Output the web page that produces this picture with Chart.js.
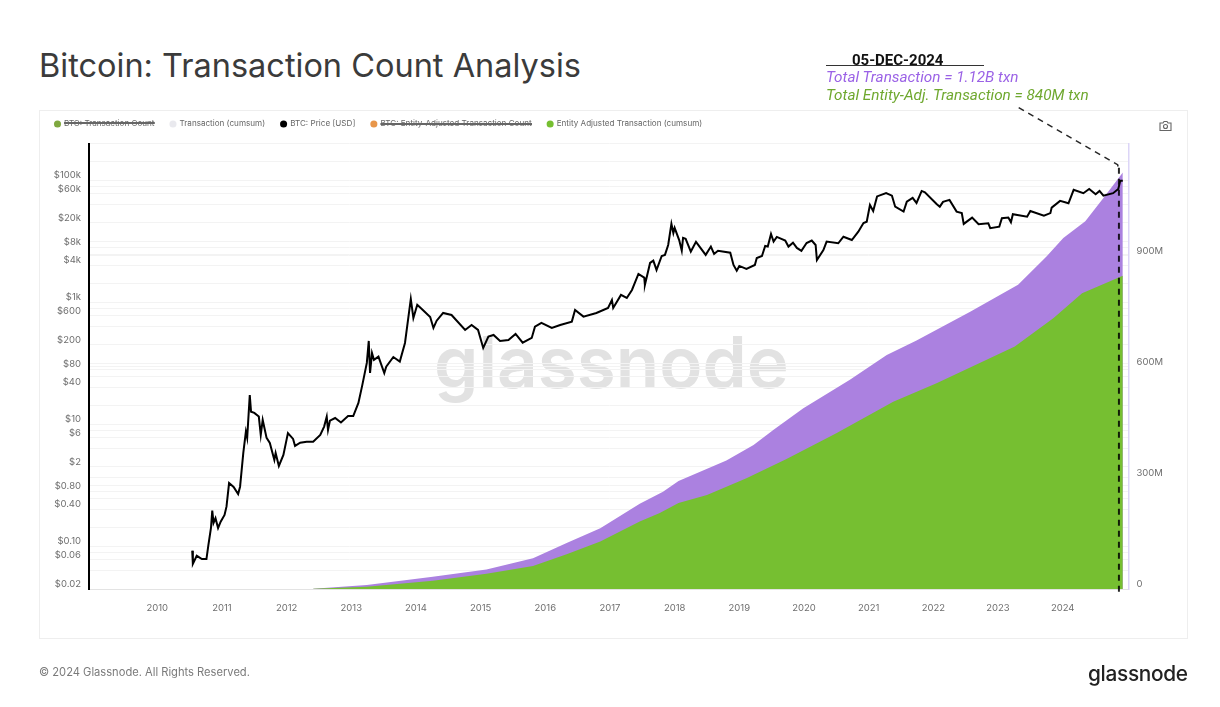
<!DOCTYPE html>
<html lang="en">
<head>
<meta charset="utf-8">
<title>Bitcoin: Transaction Count Analysis</title>
<script src="https://cdn.jsdelivr.net/npm/chart.js@4"></script>
<style>
    html, body { margin: 0; padding: 0; background: #fff; }
    body { position: relative; width: 1220px; height: 707px; overflow: hidden; font-family: Inter, sans-serif; }
    .abs { position: absolute; white-space: nowrap; line-height: 1; }
    #card { position: absolute; left: 39px; top: 110px; width: 1147px; height: 527px; border: 1px solid #eeeeee; }
    #title { left: 39px; top: 50px; font-size: 32.5px; color: #3b3b3b; }
    #watermark { left: 434px; top: 327px; font-size: 71px; font-weight: 600; color: #e2e2e2; }
    #chart { position: absolute; left: 0; top: 0; }
    #date { left: 852px; top: 51px; font: 700 15px Roboto, sans-serif; color: #111; }
    #rule { position: absolute; left: 826px; top: 65px; width: 158px; height: 1px; background: #333; }
    #noteTotal { left: 826px; top: 68px; font: italic 15.3px Roboto, sans-serif; color: #9b62e6; }
    #noteEntity { left: 826px; top: 86px; font: italic 15.3px Roboto, sans-serif; color: #6fa82f; }
    #copyright { left: 39px; top: 667px; font-size: 11.15px; color: #7a7a7a; }
    #logo { left: 1088px; top: 664px; font-size: 20.8px; font-weight: 500; color: #222; letter-spacing: -0.3px; }
    #camera { position: absolute; left: 1159px; top: 120px; }
</style>
</head>
<body>
<div id="card"></div>
<div id="title" class="abs">Bitcoin: Transaction Count Analysis</div>
<div id="watermark" class="abs">glassnode</div>
<canvas id="chart" width="1220" height="707"></canvas>
<div id="date" class="abs">05-DEC-2024</div>
<div id="rule"></div>
<div id="noteTotal" class="abs">Total Transaction = 1.12B txn</div>
<div id="noteEntity" class="abs">Total Entity-Adj. Transaction = 840M txn</div>
<svg id="camera" width="13" height="12" viewBox="0 0 13 12" fill="none" stroke="#666" stroke-width="1.1">
    <path d="M1 3h3l1-1.5h3L9 3h3v7.5H1z"/><circle cx="6.5" cy="6.5" r="2"/>
</svg>
<div id="copyright" class="abs">© 2024 Glassnode. All Rights Reserved.</div>
<div id="logo" class="abs">glassnode</div>

<script>
const priceYears = [
    2010.54, 2010.55, 2010.61, 2010.69, 2010.76, 2010.79, 2010.83, 2010.85, 2010.87, 2010.90, 2010.94, 2010.98,
    2011.04, 2011.07, 2011.11, 2011.18, 2011.25, 2011.28, 2011.33, 2011.37, 2011.39, 2011.43, 2011.45, 2011.50,
    2011.57, 2011.60, 2011.63, 2011.69, 2011.74, 2011.81, 2011.83, 2011.88, 2011.95, 2012.02, 2012.10, 2012.13,
    2012.21, 2012.31, 2012.41, 2012.52, 2012.58, 2012.62, 2012.64, 2012.67, 2012.75, 2012.84, 2012.95, 2013.03,
    2013.11, 2013.17, 2013.24, 2013.27, 2013.29, 2013.32, 2013.35, 2013.42, 2013.51, 2013.54, 2013.65, 2013.75,
    2013.83, 2013.92, 2013.96, 2014.02, 2014.09, 2014.22, 2014.27, 2014.32, 2014.42, 2014.55, 2014.76, 2014.86,
    2014.96, 2015.04, 2015.12, 2015.20, 2015.30, 2015.43, 2015.54, 2015.65, 2015.79, 2015.84, 2015.94, 2016.10,
    2016.23, 2016.41, 2016.46, 2016.59, 2016.79, 2016.97, 2017.03, 2017.05, 2017.17, 2017.26, 2017.34, 2017.44,
    2017.53, 2017.54, 2017.62, 2017.67, 2017.72, 2017.80, 2017.85, 2017.90, 2017.95, 2017.98, 2018.00, 2018.07,
    2018.11, 2018.13, 2018.17, 2018.25, 2018.33, 2018.48, 2018.56, 2018.61, 2018.67, 2018.86, 2018.91, 2018.96,
    2019.00, 2019.11, 2019.24, 2019.27, 2019.35, 2019.40, 2019.44, 2019.49, 2019.53, 2019.58, 2019.71, 2019.76,
    2019.83, 2019.89, 2019.96, 2020.04, 2020.12, 2020.18, 2020.20, 2020.30, 2020.35, 2020.53, 2020.61, 2020.74,
    2020.84, 2020.92, 2020.97, 2021.02, 2021.07, 2021.13, 2021.27, 2021.36, 2021.41, 2021.54, 2021.59, 2021.68,
    2021.74, 2021.82, 2021.87, 2022.05, 2022.10, 2022.15, 2022.25, 2022.36, 2022.44, 2022.47, 2022.60, 2022.70,
    2022.85, 2022.88, 2023.02, 2023.06, 2023.16, 2023.20, 2023.23, 2023.45, 2023.50, 2023.71, 2023.81, 2023.83,
    2023.96, 2024.09, 2024.17, 2024.32, 2024.41, 2024.51, 2024.57, 2024.63, 2024.78, 2024.86, 2024.89, 2024.93
];
const priceUsd = [
    0.085, 0.0515, 0.07, 0.062, 0.062, 0.105, 0.2, 0.385, 0.242, 0.29, 0.2, 0.254,
    0.327, 0.447, 1.09, 0.94, 0.72, 0.95, 3.4, 7.6, 6.0, 30.3, 16.1, 15.4,
    13.4, 6.7, 11.8, 6.0, 4.95, 2.6, 3.4, 2.08, 3.15, 7.2, 5.76, 4.43,
    5.0, 5.2, 5.2, 6.7, 9.2, 13.4, 8.1, 11.5, 12.7, 10.7, 13.7, 13.7,
    22.4, 44, 101.5, 233, 69.5, 147, 114, 129, 69.5, 88, 127, 107,
    216, 1137, 555, 910, 780, 576, 380, 500, 670, 620, 353, 426,
    353, 179, 274, 292, 233, 242, 303, 218, 261, 400, 460, 380,
    426, 483, 750, 583, 670, 810, 1095, 810, 1322, 1180, 1597, 2920,
    2540, 1930, 4430, 4830, 3400, 5760, 6000, 8700, 19300, 13700, 16600, 10500,
    7050, 11400, 11000, 6800, 9800, 6000, 8200, 6200, 7000, 6500, 4100, 3300,
    3950, 3530, 4100, 5340, 5760, 8400, 8200, 13200, 9900, 11800, 10300, 8200,
    9500, 7800, 7000, 9400, 10300, 8700, 4950, 7200, 9900, 9300, 11900, 10500,
    14400, 20000, 21000, 39500, 31500, 54500, 62000, 56000, 37000, 30700, 44700, 51500,
    42600, 67000, 63800, 41000, 37000, 44300, 47800, 30700, 29000, 19300, 24500, 19100,
    19800, 16400, 17400, 23900, 24500, 20500, 27800, 25400, 31500, 26400, 29000, 35700,
    46000, 42000, 70000, 61500, 72000, 59000, 67000, 56000, 61500, 72000, 98000, 98000
];

const totalYears = [
    2012.41, 2013.24, 2014.26, 2015.09, 2015.81, 2016.33, 2016.85, 2017.46, 2017.82, 2018.06, 2018.80, 2019.22,
    2019.53, 2019.99, 2020.71, 2021.28, 2021.74, 2022.57, 2023.31, 2023.75, 2024.01, 2024.35, 2024.63, 2024.93
];
const totalTxnM = [
    1, 11, 33, 53, 83, 124, 164, 230, 263, 292, 347, 389,
    430, 488, 565, 632, 671, 749, 822, 898, 948, 993, 1056, 1125
];

const entityYears = [
    2012.41, 2013.24, 2014.26, 2015.09, 2015.81, 2016.33, 2016.85, 2017.46, 2017.77, 2018.06, 2018.50, 2019.11,
    2019.73, 2020.50, 2021.38, 2022.05, 2023.26, 2023.86, 2024.30, 2024.93
];
const entityTxnM = [
    1, 6, 22, 41, 62, 94, 128, 182, 205, 232, 254, 299,
    351, 421, 506, 556, 655, 732, 799, 846
];

// callout from the note above the card down to the 05-DEC-2024 marker
const calloutYears = [2023.32, 2024.85, 2024.87];
const calloutTxnM = [1300, 1146, 1132];
const markerYears = [2024.87, 2024.87];
const markerTxnM = [1138, -11];

const yearTicks = [2010, 2011, 2012, 2013, 2014, 2015, 2016, 2017, 2018, 2019, 2020, 2021, 2022, 2023, 2024];
const priceGridValues = [
    0.02, 0.04, 0.06, 0.08, 0.1, 0.2, 0.4, 0.6, 0.8, 1, 2, 4, 6, 8, 10, 20, 40, 60, 80,
    100, 200, 400, 600, 800, 1000, 2000, 4000, 6000, 8000, 10000, 20000, 40000, 60000, 80000,
    100000, 200000, 400000
];
const priceLabels = {
    0.02: '$0.02', 0.06: '$0.06', 0.1: '$0.10', 0.4: '$0.40', 0.8: '$0.80', 2: '$2', 6: '$6', 10: '$10',
    40: '$40', 80: '$80', 200: '$200', 600: '$600', 1000: '$1k', 4000: '$4k', 8000: '$8k',
    20000: '$20k', 60000: '$60k', 100000: '$100k'
};
const txnTicksM = [0, 300, 600, 900];

const legendNames = [
    'BTC: Transaction Count',
    'Transaction (cumsum)',
    'BTC: Price [USD]',
    'BTC: Entity-Adjusted Transaction Count',
    'Entity Adjusted Transaction (cumsum)'
];
const legendDots = ['#7fa83f', '#e9e9ee', '#000000', '#e8964a', '#76bf31'];

function zipPoints(xs, ys) {
    return xs.map(function (x, i) {
        return { x: x, y: ys[i] };
    });
}

function pinTicks(values) {
    return function (scale) {
        scale.ticks = values.map(function (value) {
            return { value: value };
        });
    };
}

function fixedWidth(width) {
    return function (scale) {
        scale.width = width;
    };
}

const axisFont = { family: 'Inter, sans-serif', size: 9.5 };
const gridColor = '#f3f3f3';

function areaDataset(label, points, color, order) {
    return {
        label: label,
        data: points,
        yAxisID: 'yTxn',
        order: order,
        borderWidth: 0,
        backgroundColor: color,
        fill: 'origin',
        pointRadius: 0,
        tension: 0,
    };
}

function hiddenDataset(label) {
    return { label: label, data: [], yAxisID: 'yTxn', hidden: true, order: 9, pointRadius: 0 };
}

function calloutDataset(points, width) {
    return {
        label: '',
        data: points,
        yAxisID: 'yTxn',
        order: 0,
        borderColor: 'rgba(0, 0, 0, 0.85)',
        borderWidth: width,
        borderDash: [6, 5],
        pointRadius: 0,
        clip: false,
    };
}

// keeps a few pixels between the legend and the plot
const legendSpacer = {
    id: 'legendSpacer',
    beforeInit: function (chart) {
        const fit = chart.legend.fit;
        chart.legend.fit = function () {
            fit.call(this);
            this.height += 5.5;
        };
    },
};

new Chart(document.getElementById('chart').getContext('2d'), {
    type: 'line',
    plugins: [legendSpacer],
    data: {
        datasets: [
            hiddenDataset(legendNames[0]),
            areaDataset(legendNames[1], zipPoints(totalYears, totalTxnM.map(function (v) { return v * 1e6; })), '#ab81e0', 4),
            {
                label: legendNames[2],
                data: zipPoints(priceYears, priceUsd),
                yAxisID: 'yPrice',
                order: 1,
                borderColor: '#000',
                borderWidth: 2,
                pointRadius: 0,
                tension: 0,
            },
            hiddenDataset(legendNames[3]),
            areaDataset(legendNames[4], zipPoints(entityYears, entityTxnM.map(function (v) { return v * 1e6; })), '#76bf31', 3),
            calloutDataset(zipPoints(calloutYears, calloutTxnM.map(function (v) { return v * 1e6; })), 1.5),
            calloutDataset(zipPoints(markerYears, markerTxnM.map(function (v) { return v * 1e6; })), 2),
        ],
    },
    options: {
        responsive: false,
        animation: false,
        events: [],
        layout: { padding: { left: 39, right: 51.5, top: 104, bottom: 88 } },
        plugins: {
            tooltip: { enabled: false },
            legend: {
                position: 'top',
                align: 'start',
                labels: {
                    usePointStyle: true,
                    boxWidth: 5,
                    boxHeight: 5,
                    padding: 16,
                    color: '#666',
                    font: { family: 'Inter, sans-serif', size: 8.1 },
                    filter: function (item) {
                        return item.text !== '';
                    },
                    sort: function (a, b) {
                        return a.datasetIndex - b.datasetIndex;
                    },
                    generateLabels: function (chart) {
                        return Chart.defaults.plugins.legend.labels.generateLabels(chart).map(function (item) {
                            const dot = legendDots[item.datasetIndex];
                            item.fillStyle = dot;
                            item.strokeStyle = dot;
                            item.lineWidth = 0;
                            item.lineDash = [];
                            item.pointStyle = 'circle';
                            return item;
                        });
                    },
                },
            },
        },
        scales: {
            x: {
                type: 'linear',
                min: 2008.944,
                max: 2025.018,
                afterFit: function (scale) {
                    scale.height = 30;
                },
                afterBuildTicks: pinTicks(yearTicks),
                grid: { display: false },
                border: { color: '#e3e3e3' },
                ticks: {
                    autoSkip: false,
                    maxRotation: 0,
                    padding: 5,
                    color: '#6e6e6e',
                    font: axisFont,
                    callback: function (value) {
                        return String(value);
                    },
                },
            },
            yPrice: {
                type: 'logarithmic',
                position: 'left',
                min: 0.02,
                max: 400000,
                afterFit: fixedWidth(50),
                afterBuildTicks: pinTicks(priceGridValues),
                grid: { color: gridColor, drawTicks: false },
                border: { color: '#000', width: 2 },
                ticks: {
                    autoSkip: false,
                    padding: 8,
                    labelOffset: -5,
                    color: '#6e6e6e',
                    font: axisFont,
                    callback: function (value) {
                        return priceLabels[value] || '';
                    },
                },
            },
            yTxn: {
                type: 'linear',
                position: 'right',
                min: 0,
                max: 1203e6,
                afterFit: fixedWidth(40),
                afterBuildTicks: pinTicks(txnTicksM.map(function (v) { return v * 1e6; })),
                grid: { color: gridColor, drawTicks: false },
                border: { color: '#dcd5f7', width: 1.5 },
                ticks: {
                    autoSkip: false,
                    padding: 8,
                    labelOffset: -5,
                    color: '#6e6e6e',
                    font: axisFont,
                    callback: function (value) {
                        return value === 0 ? '0' : value / 1e6 + 'M';
                    },
                },
            },
        },
    },
});
</script>
</body>
</html>
